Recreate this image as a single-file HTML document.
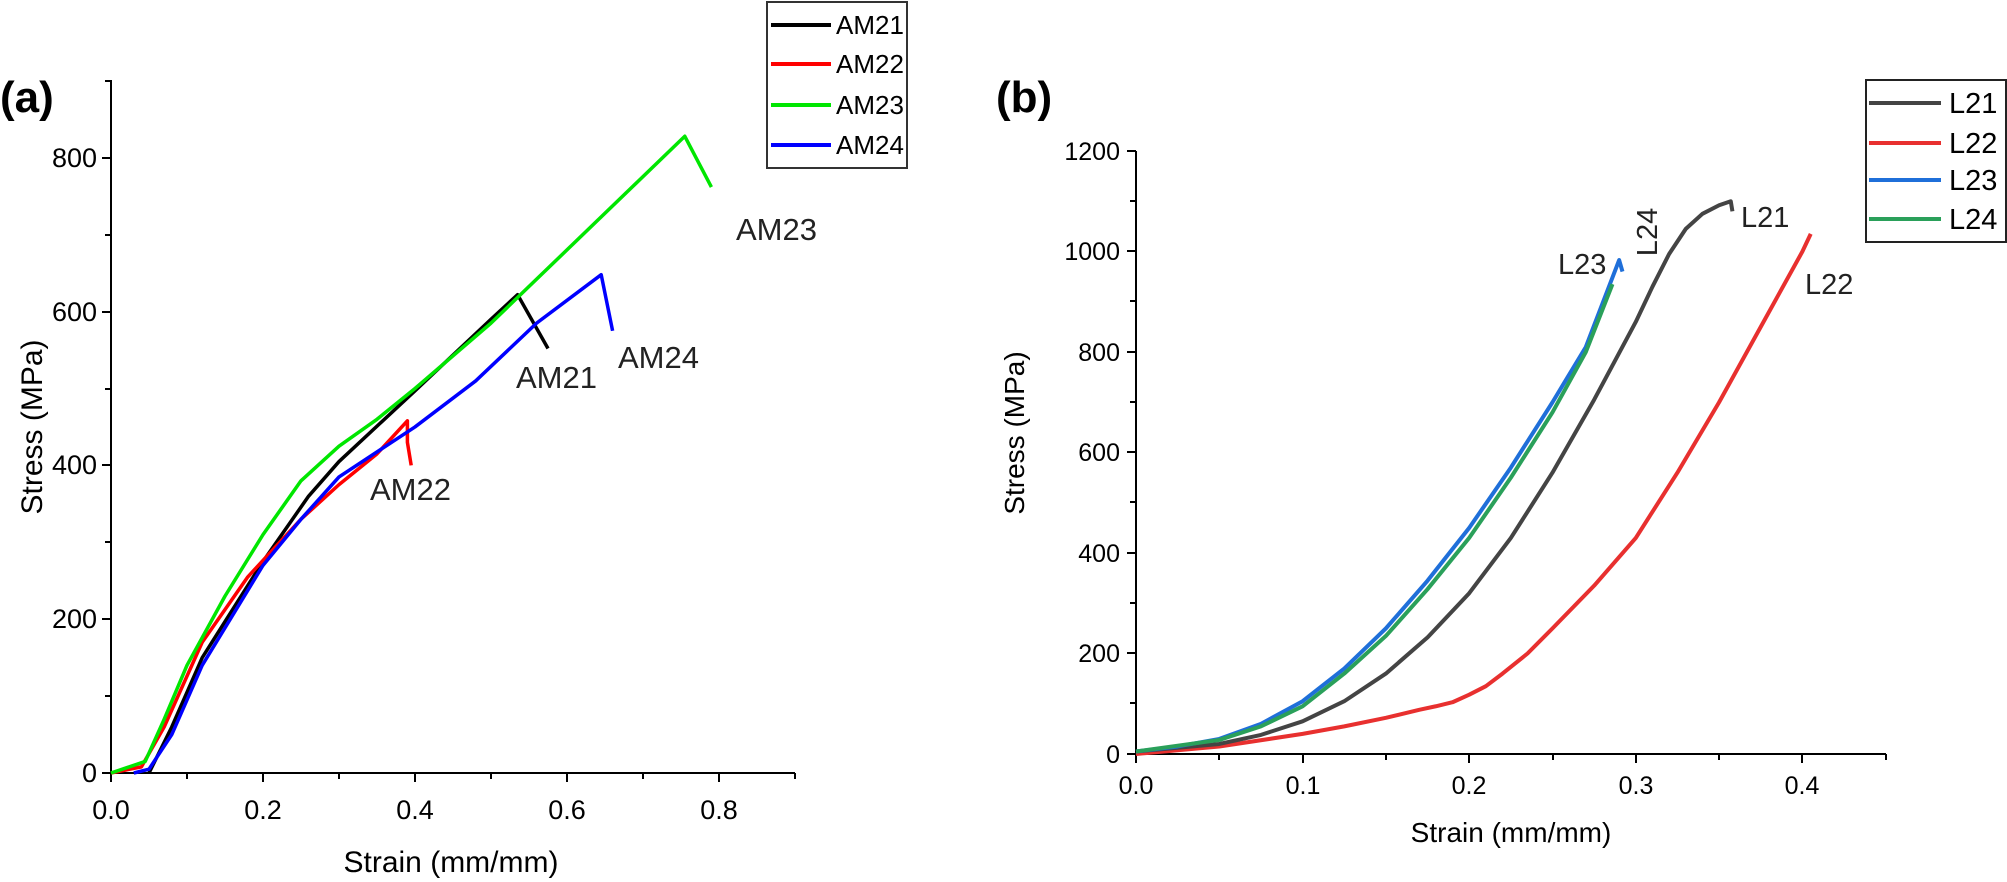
<!DOCTYPE html>
<html><head><meta charset="utf-8"><style>
html,body{margin:0;padding:0;background:#fff;}
svg{display:block;font-family:"Liberation Sans",sans-serif;}
</style></head><body>
<svg width="2007" height="882" viewBox="0 0 2007 882" xmlns="http://www.w3.org/2000/svg">
<rect width="2007" height="882" fill="#fff"/>
<!-- Panel A -->
<text x="0" y="112" font-size="44" font-weight="bold">(a)</text>
<g stroke="#000" stroke-width="2" fill="none">
<line x1="111" y1="80" x2="111" y2="773"/>
<line x1="111" y1="773" x2="795" y2="773"/>
<path d="M111 773v9M263 773v9M415 773v9M567 773v9M719 773v9M187 773v6M339 773v6M491 773v6M643 773v6M795 773v6"/>
<path d="M111 773h-9M111 619h-9M111 465h-9M111 312h-9M111 158h-9M111 696h-6M111 542h-6M111 389h-6M111 235h-6M111 81h-6"/>
</g>
<g font-size="27" text-anchor="middle">
<text x="111" y="819">0.0</text><text x="263" y="819">0.2</text><text x="415" y="819">0.4</text><text x="567" y="819">0.6</text><text x="719" y="819">0.8</text>
</g>
<g font-size="27" text-anchor="end">
<text x="97" y="782">0</text><text x="97" y="628">200</text><text x="97" y="474">400</text><text x="97" y="321">600</text><text x="97" y="167">800</text>
</g>
<text x="451" y="872" font-size="30" text-anchor="middle">Strain (mm/mm)</text>
<text transform="translate(42,427) rotate(-90)" font-size="30" text-anchor="middle">Stress (MPa)</text>
<g transform="translate(111,773) scale(760,-0.769)" fill="none" stroke-width="3.5" stroke-linejoin="round">
<polyline vector-effect="non-scaling-stroke" stroke="#000" points="0.05,0 0.08,60 0.12,150 0.2,275 0.26,360 0.3,405 0.4,497 0.5,590 0.535,622 0.575,552"/>
<polyline vector-effect="non-scaling-stroke" stroke="#ff0000" points="0,0 0.04,8 0.07,60 0.12,170 0.18,255 0.25,330 0.3,375 0.35,415 0.39,458 0.39,430 0.395,400"/>
<polyline vector-effect="non-scaling-stroke" stroke="#00e600" points="0,0 0.045,15 0.07,70 0.1,140 0.15,230 0.2,310 0.25,380 0.3,425 0.35,460 0.4,500 0.5,585 0.755,828 0.79,762"/>
<polyline vector-effect="non-scaling-stroke" stroke="#0000ff" points="0.03,0 0.05,5 0.08,50 0.12,140 0.2,270 0.25,330 0.3,385 0.4,450 0.48,510 0.56,585 0.645,648 0.66,575"/>
</g>
<g font-size="31" fill="#222">
<text x="516" y="388">AM21</text><text x="618" y="368">AM24</text><text x="370" y="500">AM22</text><text x="736" y="240">AM23</text>
</g>
<rect x="767" y="2" width="140" height="166" fill="#fff" stroke="#333" stroke-width="2"/>
<g stroke-width="4">
<line x1="771" y1="25" x2="831" y2="25" stroke="#000"/>
<line x1="771" y1="64" x2="831" y2="64" stroke="#ff0000"/>
<line x1="771" y1="105" x2="831" y2="105" stroke="#00e600"/>
<line x1="771" y1="145" x2="831" y2="145" stroke="#0000ff"/>
</g>
<g font-size="26"><text x="836" y="34">AM21</text><text x="836" y="73">AM22</text><text x="836" y="114">AM23</text><text x="836" y="154">AM24</text></g>
<!-- Panel B -->
<text x="996" y="112" font-size="44" font-weight="bold">(b)</text>
<g stroke="#000" stroke-width="2" fill="none">
<line x1="1136" y1="151" x2="1136" y2="754"/>
<line x1="1136" y1="754" x2="1886" y2="754"/>
<path d="M1136 754v9M1303 754v9M1469 754v9M1636 754v9M1802 754v9M1219 754v6M1386 754v6M1553 754v6M1719 754v6M1886 754v6"/>
<path d="M1136 754h-9M1136 653h-9M1136 553h-9M1136 452h-9M1136 352h-9M1136 251h-9M1136 151h-9M1136 703h-6M1136 603h-6M1136 502h-6M1136 402h-6M1136 301h-6M1136 201h-6"/>
</g>
<g font-size="25" text-anchor="middle">
<text x="1136" y="794">0.0</text><text x="1303" y="794">0.1</text><text x="1469" y="794">0.2</text><text x="1636" y="794">0.3</text><text x="1802" y="794">0.4</text>
</g>
<g font-size="25" text-anchor="end">
<text x="1120" y="763">0</text><text x="1120" y="662">200</text><text x="1120" y="562">400</text><text x="1120" y="461">600</text><text x="1120" y="361">800</text><text x="1120" y="260">1000</text><text x="1120" y="160">1200</text>
</g>
<text x="1511" y="842" font-size="28" text-anchor="middle">Strain (mm/mm)</text>
<text transform="translate(1024,433) rotate(-90)" font-size="28" text-anchor="middle">Stress (MPa)</text>
<g transform="translate(1136,754) scale(1666,-0.5025)" fill="none" stroke-width="4" stroke-linejoin="round">
<polyline vector-effect="non-scaling-stroke" stroke="#e8302f" points="0,0 0.05,15 0.1,40 0.125,55 0.15,72 0.17,88 0.18,95 0.19,103 0.2,118 0.21,135 0.22,160 0.235,200 0.25,250 0.275,335 0.3,430 0.325,560 0.35,700 0.375,850 0.4,1000 0.405,1035"/>
<polyline vector-effect="non-scaling-stroke" stroke="#444" points="0,5 0.05,20 0.075,38 0.1,65 0.125,105 0.15,160 0.175,232 0.2,320 0.225,430 0.25,560 0.275,705 0.3,860 0.31,930 0.32,995 0.33,1045 0.34,1075 0.35,1092 0.357,1100 0.358,1080"/>
<polyline vector-effect="non-scaling-stroke" stroke="#1f6fd9" points="0,5 0.025,15 0.05,30 0.075,60 0.1,105 0.125,170 0.15,250 0.175,345 0.2,450 0.225,570 0.25,700 0.27,810 0.29,983 0.292,960"/>
<polyline vector-effect="non-scaling-stroke" stroke="#2aa05a" points="0,5 0.05,28 0.075,55 0.1,95 0.125,160 0.15,235 0.175,328 0.2,430 0.225,550 0.25,680 0.27,800 0.286,935"/>
</g>
<g font-size="29" fill="#222">
<text x="1741" y="227">L21</text><text x="1805" y="294">L22</text><text x="1558" y="274">L23</text>
<text transform="translate(1657,232) rotate(-90)" text-anchor="middle">L24</text>
</g>
<rect x="1866" y="80" width="140" height="162" fill="#fff" stroke="#222" stroke-width="2"/>
<g stroke-width="4">
<line x1="1869" y1="103" x2="1941" y2="103" stroke="#444"/>
<line x1="1869" y1="143" x2="1941" y2="143" stroke="#e8302f"/>
<line x1="1869" y1="180" x2="1941" y2="180" stroke="#1f6fd9"/>
<line x1="1869" y1="219" x2="1941" y2="219" stroke="#2aa05a"/>
</g>
<g font-size="29"><text x="1949" y="113">L21</text><text x="1949" y="153">L22</text><text x="1949" y="190">L23</text><text x="1949" y="229">L24</text></g>
</svg>
</body></html>
